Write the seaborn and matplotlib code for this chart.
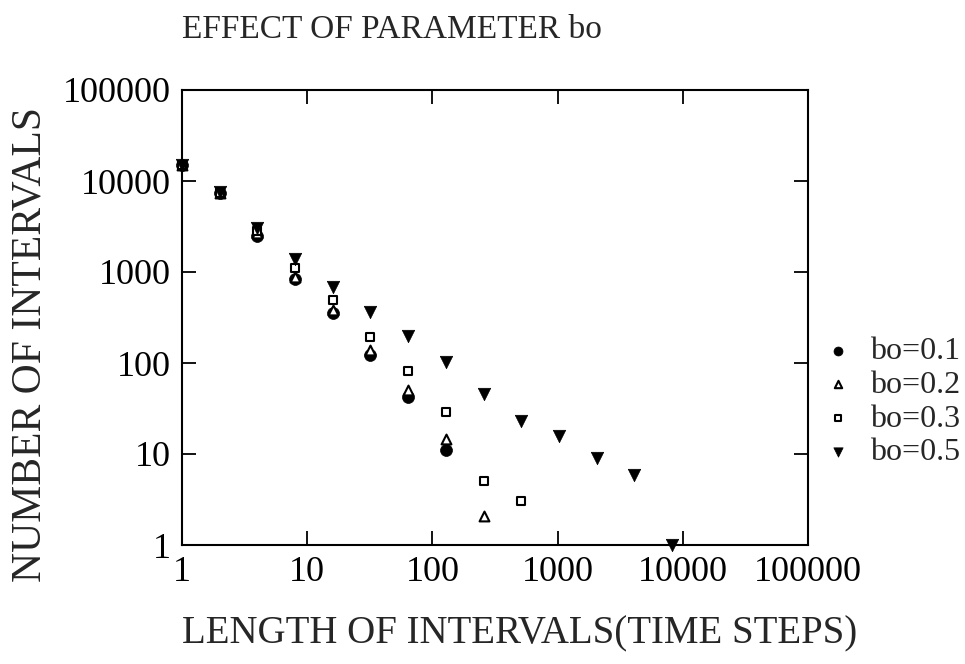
import matplotlib
matplotlib.use("Agg")
import matplotlib.pyplot as plt
import seaborn as sns
import pandas as pd

# ---- data ----
x_01 = [1, 2, 4, 8, 16, 32, 64, 128]
y_01 = [15000, 7300, 2500, 840, 355, 122, 42, 11]

x_02 = [1, 2, 4, 8, 16, 32, 64, 128, 256]
y_02 = [15000, 7300, 2700, 880, 380, 139, 50, 14.6, 2.1]

x_03 = [1, 2, 4, 8, 16, 32, 64, 128, 256, 512]
y_03 = [15000, 7300, 2850, 1100, 490, 193, 81, 29, 5.05, 3.05]

x_05 = [1, 2, 4, 8, 16, 32, 64, 128, 256, 512, 1024, 2048, 4096, 8192]
y_05 = [15000, 7500, 3050, 1390, 690, 363, 200, 103, 46, 23.3, 15.8, 9.0, 5.9, 1.0]

labels = ["bo=0.1", "bo=0.2", "bo=0.3", "bo=0.5"]
tick_vals = [1, 10, 100, 1000, 10000, 100000]
tick_labels = ["1", "10", "100", "1000", "10000", "100000"]

sns.set_style("ticks")
plt.rcParams["font.family"] = ["Liberation Serif", "DejaVu Serif"]

fig = plt.figure(figsize=(9.65, 6.64), dpi=100)
ax = fig.add_axes([182 / 965, 1 - 545 / 664, (808 - 182) / 965, (545 - 90) / 664])

styles = [
    dict(marker="o", s=74, facecolor="black", edgecolor="black", linewidth=0.5),
    dict(marker="^", s=50, facecolor="white", edgecolor="black", linewidth=1.5),
    dict(marker="s", s=40, facecolor="white", edgecolor="black", linewidth=1.5),
    dict(marker="v", s=80, facecolor="black", edgecolor="black", linewidth=0.5),
]
series = [(x_01, y_01), (x_02, y_02), (x_03, y_03), (x_05, y_05)]

for (xs, ys), lab, st in zip(series, labels, styles):
    df = pd.DataFrame({"x": xs, "y": ys})
    sns.scatterplot(data=df, x="x", y="y", ax=ax, label=lab, color="black",
                    clip_on=False, zorder=3, **st)

ax.set_xscale("log")
ax.set_yscale("log")
ax.set_xlim(1, 100000)
ax.set_ylim(1, 100000)
ax.set_xticks(tick_vals)
ax.set_xticklabels(tick_labels)
ax.set_yticks(tick_vals)
ax.set_yticklabels(tick_labels)
ax.minorticks_off()
ax.tick_params(axis="both", which="major", direction="in", length=10, width=1.3,
               labelsize=26, pad=8, top=True, right=True, color="black",
               labelcolor="black")
ax.set_xlabel("")
ax.set_ylabel("")
for sp in ax.spines.values():
    sp.set_visible(True)
    sp.set_linewidth(1.5)
    sp.set_color("black")

fig.text(182 / 965, 1 - 38 / 664, "EFFECT OF PARAMETER bo", fontsize=24,
         ha="left", va="baseline")
fig.text(520 / 965, 1 - 643 / 664, "LENGTH OF INTERVALS(TIME STEPS)", fontsize=28,
         ha="center", va="baseline")
fig.text(30 / 965, 1 - 345 / 664, "NUMBER OF INTERVALS", fontsize=30,
         ha="center", va="center", rotation=90)

leg = ax.legend(loc="center left", bbox_to_anchor=(825 / 965, 1 - 402 / 664),
                bbox_transform=fig.transFigure, frameon=False, fontsize=23,
                handlelength=0.8, handletextpad=0.6, borderaxespad=0,
                borderpad=0, labelspacing=0.14, markerscale=0.75)

fig.savefig("out.png", dpi=100)
